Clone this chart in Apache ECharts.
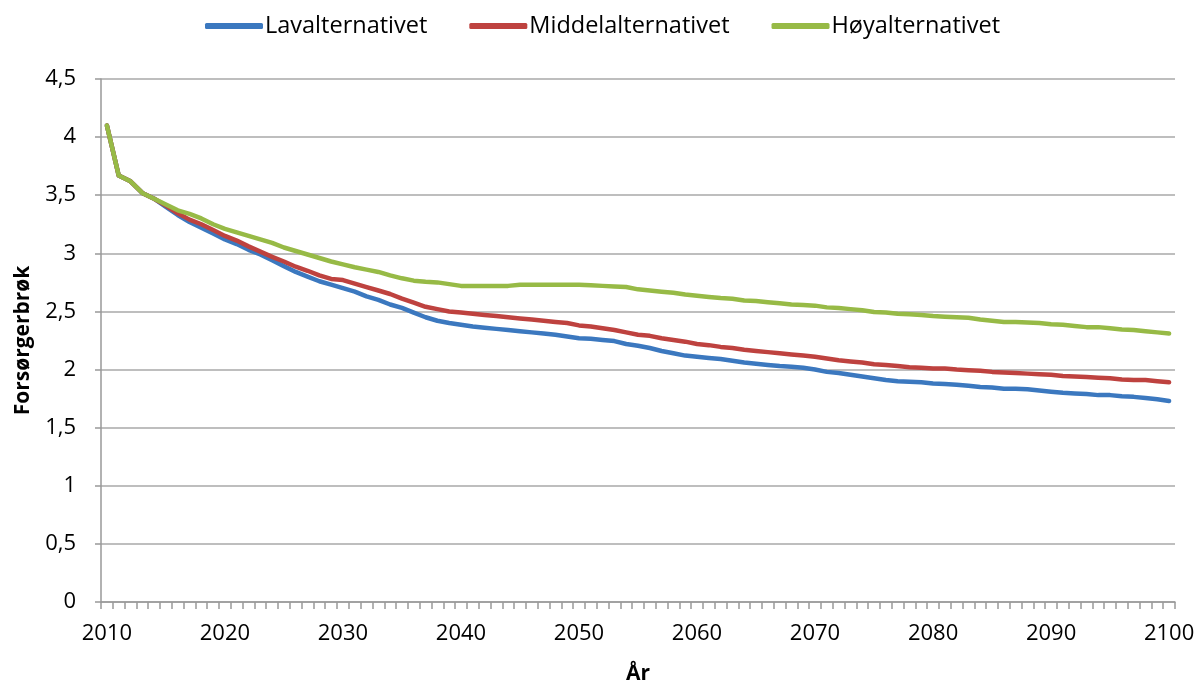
<!DOCTYPE html>
<html>
<head>
<meta charset="utf-8">
<script src="https://cdn.jsdelivr.net/npm/echarts@6/dist/echarts.min.js"></script>
<style>html,body{margin:0;padding:0;background:#fff}#c{width:1196px;height:686px}</style>
</head>
<body>
<div id="c"></div>
<script>
const years = [];
for (let y = 2010; y <= 2100; y++) years.push(String(y));

const seriesNames = ['Lavalternativet', 'Middelalternativet', 'Høyalternativet'];

const lav = [
  4.10, 3.67, 3.62, 3.52, 3.47, 3.40, 3.33, 3.27, 3.22, 3.17,
  3.12, 3.08, 3.03, 2.99, 2.94, 2.89, 2.84, 2.80, 2.76, 2.73,
  2.70, 2.67, 2.63, 2.60, 2.56, 2.53, 2.49, 2.45, 2.42, 2.40,
  2.385, 2.37, 2.36, 2.35, 2.34, 2.33, 2.32, 2.31, 2.30, 2.285,
  2.27, 2.265, 2.255, 2.245, 2.22, 2.205, 2.185, 2.16, 2.14, 2.12,
  2.11, 2.10, 2.09, 2.075, 2.06, 2.05, 2.04, 2.03, 2.025, 2.015,
  2.00, 1.98, 1.97, 1.955, 1.94, 1.925, 1.91, 1.90, 1.895, 1.89,
  1.88, 1.875, 1.87, 1.86, 1.85, 1.845, 1.835, 1.835, 1.83, 1.82,
  1.81, 1.80, 1.795, 1.79, 1.78, 1.78, 1.77, 1.765, 1.755, 1.745,
  1.73
];

const middel = [
  4.10, 3.67, 3.62, 3.52, 3.47, 3.41, 3.345, 3.29, 3.25, 3.20,
  3.15, 3.11, 3.06, 3.015, 2.97, 2.93, 2.885, 2.85, 2.81, 2.78,
  2.77, 2.74, 2.71, 2.68, 2.65, 2.61, 2.575, 2.54, 2.52, 2.50,
  2.49, 2.48, 2.47, 2.46, 2.45, 2.44, 2.43, 2.42, 2.41, 2.40,
  2.38, 2.37, 2.355, 2.34, 2.32, 2.30, 2.29, 2.27, 2.255, 2.24,
  2.22, 2.21, 2.195, 2.185, 2.17, 2.16, 2.15, 2.14, 2.13, 2.12,
  2.11, 2.095, 2.08, 2.07, 2.06, 2.045, 2.04, 2.03, 2.02, 2.015,
  2.01, 2.01, 2.00, 1.995, 1.99, 1.98, 1.975, 1.97, 1.965, 1.96,
  1.955, 1.945, 1.94, 1.935, 1.93, 1.925, 1.915, 1.91, 1.91, 1.90,
  1.89
];

const hoy = [
  4.10, 3.67, 3.62, 3.52, 3.47, 3.42, 3.37, 3.34, 3.30, 3.25,
  3.21, 3.18, 3.15, 3.12, 3.09, 3.05, 3.02, 2.99, 2.96, 2.93,
  2.905, 2.88, 2.86, 2.84, 2.81, 2.785, 2.765, 2.755, 2.75, 2.735,
  2.72, 2.72, 2.72, 2.72, 2.72, 2.73, 2.73, 2.73, 2.73, 2.73,
  2.73, 2.725, 2.72, 2.715, 2.71, 2.69, 2.68, 2.67, 2.66, 2.645,
  2.635, 2.625, 2.615, 2.61, 2.595, 2.59, 2.58, 2.57, 2.56, 2.555,
  2.55, 2.535, 2.53, 2.52, 2.51, 2.495, 2.49, 2.48, 2.475, 2.47,
  2.46, 2.455, 2.45, 2.445, 2.43, 2.42, 2.41, 2.41, 2.405, 2.40,
  2.39, 2.385, 2.375, 2.365, 2.365, 2.355, 2.345, 2.34, 2.33, 2.32,
  2.31
];

const colors = ['#3b78bf', '#be423f', '#97ba46'];
const font = "'Open Sans', 'Liberation Sans', sans-serif";

const chart = echarts.init(document.getElementById('c'), null, {renderer: 'canvas'});
const mk = (name, data, color) => ({
  name: name, type: 'line', data: data, symbol: 'none', smooth: false,
  lineStyle: {color: color, width: 4.5, cap: 'round', join: 'round'},
  itemStyle: {color: color}, animation: false
});

chart.setOption({
  animation: false,
  backgroundColor: '#fff',
  grid: {left: 101, right: 21, top: 79, bottom: 84, containLabel: false, outerBoundsMode: 'none'},
  legend: {
    top: 9, left: 200, itemGap: 42, itemWidth: 58, itemHeight: 6,
    icon: 'roundRect',
    textStyle: {fontFamily: font, fontSize: 23.5, color: '#000', padding: [0, 0, 0, -3]},
    data: seriesNames
  },
  xAxis: {
    type: 'category', data: years, boundaryGap: true,
    name: 'År', nameLocation: 'middle', nameGap: 62,
    nameTextStyle: {fontFamily: font, fontSize: 21, fontWeight: 'bold', color: '#000'},
    axisLine: {show: true, lineStyle: {color: '#999', width: 1.5}},
    axisTick: {show: true, interval: 0, length: 7, lineStyle: {color: '#999', width: 1.5}},
    axisLabel: {interval: 9, fontFamily: font, fontSize: 22, color: '#000', margin: 21},
    splitLine: {show: false}
  },
  yAxis: {
    type: 'value', min: 0, max: 4.5, interval: 0.5,
    name: 'Forsørgerbrøk', nameLocation: 'middle', nameGap: 67, nameRotate: 90,
    nameTextStyle: {fontFamily: font, fontSize: 21, fontWeight: 'bold', color: '#000'},
    axisLine: {show: true, lineStyle: {color: '#999', width: 1.5}},
    axisTick: {show: true, length: 6, lineStyle: {color: '#999', width: 1.5}},
    axisLabel: {fontFamily: font, fontSize: 22, color: '#000', margin: 25,
      formatter: v => String(v).replace('.', ',')},
    splitLine: {show: true, lineStyle: {color: '#a8a8a8', width: 1.5}}
  },
  series: [mk(seriesNames[0], lav, colors[0]), mk(seriesNames[1], middel, colors[1]), mk(seriesNames[2], hoy, colors[2])]
});
</script>
</body>
</html>
